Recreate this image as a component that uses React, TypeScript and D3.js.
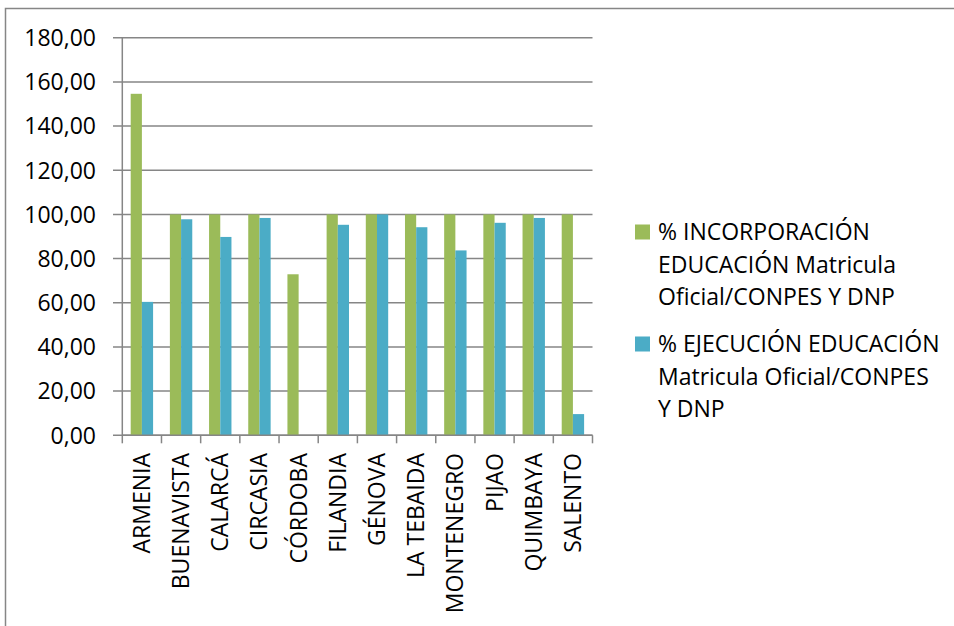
import React from "react";
import * as d3 from "d3";

const categories = ["ARMENIA", "BUENAVISTA", "CALARCÁ", "CIRCASIA", "CÓRDOBA", "FILANDIA", "GÉNOVA", "LA TEBAIDA", "MONTENEGRO", "PIJAO", "QUIMBAYA", "SALENTO"];
const incorporacion = [154.6, 100, 100, 100, 72.9, 100, 100, 100, 100, 100, 100, 100];
const ejecucion = [60.4, 97.8, 89.8, 98.4, 0, 95.3, 100, 94.2, 83.7, 96.2, 98.4, 9.6];
const yTicks = [0, 20, 40, 60, 80, 100, 120, 140, 160, 180];
const seriesNames = ["incorporacion", "ejecucion"];
const legendLines = [
  ["% INCORPORACIÓN", "EDUCACIÓN Matricula", "Oficial/CONPES Y DNP"],
  ["% EJECUCIÓN EDUCACIÓN", "Matricula Oficial/CONPES", "Y DNP"],
];
const colors = ["#9BBB59", "#4BACC6"];

const W = 954, H = 626;
const left = 122.3, right = 592.5, top = 37.7, bottom = 435.3;
const font = "'Open Sans', sans-serif";
const fs = 23;
const axisColor = "#868686";

export default function App() {
  const x = d3.scaleBand<string>().domain(categories).range([left, right]).padding(0);
  const step = x.bandwidth();
  const groupW = (step * 2) / 3.5;
  const xs = d3.scaleBand<string>().domain(seriesNames).range([(step - groupW) / 2, (step + groupW) / 2]).padding(0);
  const y = d3.scaleLinear().domain([0, 180]).range([bottom, top]);
  const fmt = (v: number) => d3.format(".2f")(v).replace(".", ",");
  const data = [incorporacion, ejecucion];

  return (
    <svg width={W} height={H} style={{ position: "absolute", left: 0, top: 0, background: "#fff" }} fontFamily={font}>
      <rect x={0} y={0} width={W} height={H} fill="#fff" />
      <rect x={5.5} y={8.5} width={1000} height={700} fill="none" stroke={axisColor} strokeWidth={1.5} />
      {yTicks.map((t) => (
        <g key={t}>
          <line x1={113} x2={right} y1={y(t)} y2={y(t)} stroke={axisColor} strokeWidth={1.5} />
          <text x={96} y={y(t)} dy="0.36em" textAnchor="end" fontSize={fs} fill="#000">{fmt(t)}</text>
        </g>
      ))}
      {data.map((vals, si) =>
        categories.map((c, i) =>
          vals[i] > 0 ? (
            <rect key={si + "-" + c} x={(x(c) as number) + (xs(seriesNames[si]) as number)} width={xs.bandwidth()} y={y(vals[i])} height={y(0) - y(vals[i])} fill={colors[si]} />
          ) : null
        )
      )}
      <line x1={left} x2={left} y1={top} y2={bottom} stroke={axisColor} strokeWidth={1.5} />
      <line x1={left} x2={right} y1={bottom} y2={bottom} stroke={axisColor} strokeWidth={1.5} />
      {[...categories.map((c) => x(c) as number), right].map((px, i) => (
        <line key={i} x1={px} x2={px} y1={bottom} y2={bottom + 8} stroke={axisColor} strokeWidth={1.5} />
      ))}
      {categories.map((c) => {
        const cx = (x(c) as number) + step / 2 + 8;
        const ty = 453;
        return (
          <text key={c} transform={`translate(${cx},${ty}) rotate(-90)`} textAnchor="end" fontSize={fs} fill="#000">{c}</text>
        );
      })}
      {legendLines.map((lines, li) => (
        <g key={li}>
          <rect x={635} y={(li === 0 ? 232 : 344) - 7.5} width={15} height={15} fill={colors[li]} />
          {lines.map((ln, k) => (
            <text key={k} x={658} y={(li === 0 ? 232 : 344) + k * 32.5} dy="0.36em" fontSize={fs} fill="#000">{ln}</text>
          ))}
        </g>
      ))}
    </svg>
  );
}
